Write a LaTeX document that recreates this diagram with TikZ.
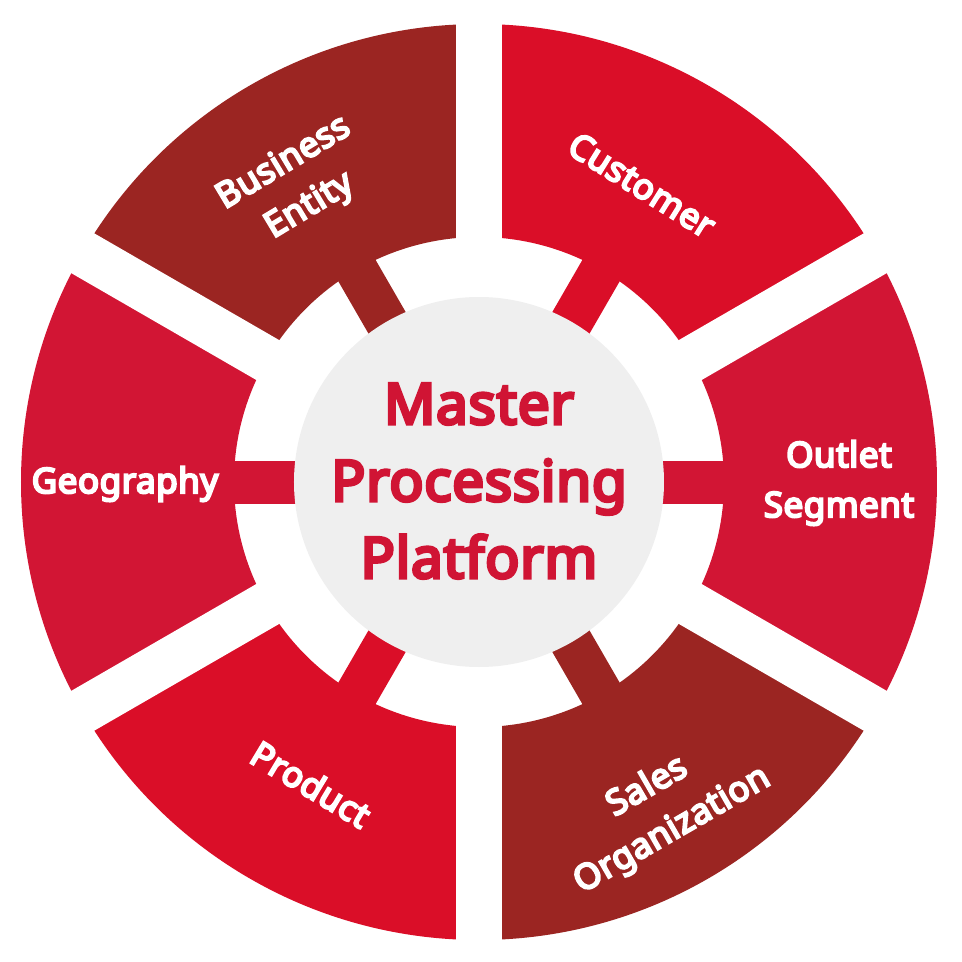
\documentclass[tikz,border=0pt]{standalone}
\usepackage{fontspec}
\newfontfamily\nsans{Noto Sans}[FakeBold=6,LetterSpace=1.5]
\definecolor{darkR}{RGB}{155,37,34}
\definecolor{redA}{RGB}{218,14,40}
\definecolor{redB}{RGB}{210,21,52}
\definecolor{hubgray}{RGB}{239,239,239}
\definecolor{hubtext}{RGB}{208,20,52}
\tikzset{
  seglabel/.style={text=white, align=center, font=\nsans\fontsize{35}{50}\selectfont, inner sep=0pt},
  hublabel/.style={text=hubtext, align=center, font=\nsans\fontsize{56.5}{77}\selectfont, inner sep=0pt}
}
\begin{document}
\begin{tikzpicture}
\useasboundingbox (-479pt,-480pt) rectangle (483pt,482pt);
% segments and connecting bars
\foreach \a/\c in {60/redA,0/redB,-60/darkR,-120/redA,180/redB,120/darkR}{
  \fill[\c] ({\a-30}:458pt) arc[start angle={\a-30}, end angle={\a+30}, radius=458pt]
     -- ({\a+30}:245pt) arc[start angle={\a+30}, end angle={\a-30}, radius=245pt] -- cycle;
  \draw[\c, line width=43pt] (\a:150pt) -- (\a:250pt);
}
% white gaps
\foreach \g in {90,30,-30}{
  \draw[white, line width=46pt] (\g:480pt) -- ({\g+180}:480pt);
}
% hub
\fill[hubgray] (0,0) circle[radius=185pt];
\node[hublabel] (hub) at (0pt,1pt) {Master\\Processing\\Platform};
% labels
\node[seglabel, rotate=-32] (customer) at (163pt,297pt) {Customer};
\node[seglabel] (outlet) at (360pt,-1pt) {Outlet\\Segment};
\node[seglabel, rotate=30] (sales) at (181pt,-327pt) {Sales\\Organization};
\node[seglabel, rotate=-31] (product) at (-168pt,-302pt) {Product};
\node[seglabel] (geo) at (-354pt,-2pt) {Geography};
\node[seglabel, rotate=31] (business) at (-182pt,297pt) {Business\\Entity};
\end{tikzpicture}
\end{document}
